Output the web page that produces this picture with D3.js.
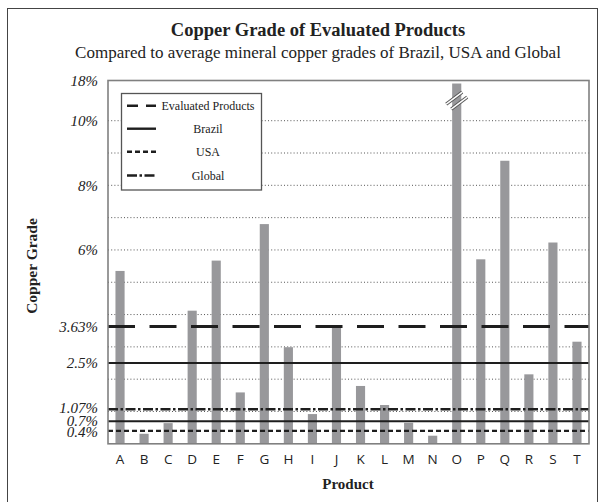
<!DOCTYPE html>
<html>
<head>
<meta charset="utf-8">
<style>
  body {
    margin: 0;
    background: #fff;
  }
  svg text {
    fill: #222;
  }
</style>
<script type="text/javascript" src="https://d3js.org/d3.v7.min.js"></script>
</head>
<body>
<svg id="chart"></svg>
<script type="text/javascript">
let products = ['A','B','C','D','E','F','G','H','I','J','K','L','M','N','O','P','Q','R','S','T']
let grades = [5.35, 0.31, 0.64, 4.12, 5.67, 1.59, 6.8, 2.99, 0.92, 3.65, 1.79, 1.2, 0.65, 0.25, 17.4, 5.71, 8.76, 2.15, 6.23, 3.16]

let tickValues = [0.4, 0.7, 1.07, 2.5, 3.63, 6, 8, 10, 18]
let tickLabels = ['0.4%', '0.7%', '1.07%', '2.5%', '3.63%', '6%', '8%', '10%', '18%']
let gridValues = [1, 2, 3, 4, 5, 6, 7, 8, 9, 10]

let refNames = ['Evaluated Products', 'Brazil', 'USA', 'Global']
let refValues = [3.63, 2.5, 0.4, 1.07]
// extra solid line drawn at 0.7%
let extraLine = 0.7

let width = 605,
    height = 502,
    plotLeft = 108,
    plotRight = 589,
    plotTop = 80.5,
    plotBottom = 443.8

let svg = d3.select('#chart')
    .attr('width', width)
    .attr('height', height)

// outer frame
svg.append('rect')
    .attr('x', 7.5).attr('y', 8.5)
    .attr('width', 590).attr('height', 500)
    .attr('fill', 'none')
    .attr('stroke', '#444')
    .attr('stroke-width', 1)

let x = d3.scaleBand()
    .domain(products)
    .range([plotLeft, plotRight])
    .paddingInner(0.62)
    .paddingOuter(0.31)

// broken axis: linear to 10%, compressed up to 18%
let y = d3.scaleLinear()
    .domain([0, 10, 18])
    .range([plotBottom, 120.7, plotTop])

// title
svg.append('text')
    .attr('x', 318).attr('y', 35.5)
    .attr('text-anchor', 'middle')
    .style('font-family', 'Liberation Serif')
    .style('font-weight', 'bold')
    .style('font-size', '18.5px')
    .text('Copper Grade of Evaluated Products')

svg.append('text')
    .attr('x', 318).attr('y', 57.5)
    .attr('text-anchor', 'middle')
    .style('font-family', 'Liberation Serif')
    .style('font-size', '17px')
    .text('Compared to average mineral copper grades of Brazil, USA and Global')

// gridlines
svg.append('g')
  .selectAll('line')
  .data(gridValues)
  .enter()
  .append('line')
    .attr('x1', plotLeft).attr('x2', plotRight)
    .attr('y1', d => y(d)).attr('y2', d => y(d))
    .attr('stroke', '#555')
    .attr('stroke-width', 1)
    .attr('stroke-dasharray', '1,2.2')

// bars
svg.append('g')
  .selectAll('rect')
  .data(grades)
  .enter()
  .append('rect')
    .attr('x', (d, i) => x(products[i]))
    .attr('y', d => y(d))
    .attr('width', x.bandwidth())
    .attr('height', d => plotBottom - y(d))
    .attr('fill', '#98989b')

// break marks on the tallest bar
let maxIdx = grades.indexOf(d3.max(grades))
let bx = x(products[maxIdx]) + x.bandwidth() / 2
let breakG = svg.append('g')
;[-2.5, 2.5].forEach(function(o) {
  breakG.append('line')
    .attr('x1', bx - 8 + o).attr('y1', y(14) + 6 + o)
    .attr('x2', bx + 8 + o).attr('y2', y(14) - 6 + o)
    .attr('stroke', '#555').attr('stroke-width', 3.2)
})
;[-2.5, 2.5].forEach(function(o) {
  breakG.append('line')
    .attr('x1', bx - 8 + o).attr('y1', y(14) + 6 + o)
    .attr('x2', bx + 8 + o).attr('y2', y(14) - 6 + o)
    .attr('stroke', '#fff').attr('stroke-width', 1.4)
})

// reference lines
let refStyles = [
  {dash: '27,14.5', w: 3},
  {dash: null, w: 2},
  {dash: '5,3', w: 2.2},
  {dash: '10,2.5,2.5,2.5', w: 2.4}
]

svg.append('g')
  .selectAll('line')
  .data(refValues)
  .enter()
  .append('line')
    .attr('x1', plotLeft).attr('x2', plotRight)
    .attr('y1', d => y(d)).attr('y2', d => y(d))
    .attr('stroke', '#1e1e1e')
    .attr('stroke-width', (d, i) => refStyles[i].w)
    .attr('stroke-dasharray', (d, i) => refStyles[i].dash)

svg.append('line')
    .attr('x1', plotLeft).attr('x2', plotRight)
    .attr('y1', y(extraLine)).attr('y2', y(extraLine))
    .attr('stroke', '#1e1e1e')
    .attr('stroke-width', 2)

// plot frame
svg.append('rect')
    .attr('x', plotLeft).attr('y', plotTop)
    .attr('width', plotRight - plotLeft).attr('height', plotBottom - plotTop)
    .attr('fill', 'none')
    .attr('stroke', '#808080')
    .attr('stroke-width', 1.6)

// y axis labels
let yAxis = d3.axisLeft(y)
    .tickValues(tickValues)
    .tickFormat((d, i) => tickLabels[i])
    .tickSize(0)
    .tickPadding(10)

let yg = svg.append('g')
    .attr('transform', 'translate(' + plotLeft + ',0)')
    .call(yAxis)
yg.select('.domain').remove()
yg.selectAll('text')
    .style('font-family', 'Liberation Serif')
    .style('font-style', 'italic')
    .style('font-size', '15px')
    .attr('fill', '#222')
// the three low labels sit very close; spread them a little
yg.selectAll('.tick')
  .filter(d => d === 1.07)
  .select('text').attr('y', -1.2)
yg.selectAll('.tick')
  .filter(d => d === 0.4)
  .select('text').attr('y', 0.6)

// x axis labels
let xAxis = d3.axisBottom(x)
    .tickSize(0)
    .tickPadding(11)

let xg = svg.append('g')
    .attr('transform', 'translate(0,' + plotBottom + ')')
    .call(xAxis)
xg.select('.domain').remove()
xg.selectAll('text')
    .style('font-family', 'Open Sans')
    .style('font-size', '13.5px')
    .attr('fill', '#222')

// axis titles
svg.append('text')
    .attr('transform', 'translate(37,266) rotate(-90)')
    .attr('text-anchor', 'middle')
    .style('font-family', 'Liberation Serif')
    .style('font-weight', 'bold')
    .style('font-size', '15.5px')
    .text('Copper Grade')

svg.append('text')
    .attr('x', 348).attr('y', 489)
    .attr('text-anchor', 'middle')
    .style('font-family', 'Liberation Serif')
    .style('font-weight', 'bold')
    .style('font-size', '15px')
    .text('Product')

// legend
let legend = svg.append('g')
legend.append('rect')
    .attr('x', 121.5).attr('y', 93.5)
    .attr('width', 140).attr('height', 96.5)
    .attr('fill', '#fff')
    .attr('stroke', '#555')
    .attr('stroke-width', 1.3)

let legendY = [105.7, 128.7, 151.7, 175.5]
let legendDash = ['11,8', null, '5,3', '10,2.5,2.5,2.5']

refNames.forEach(function(name, i) {
  legend.append('line')
    .attr('x1', 127).attr('x2', 156)
    .attr('y1', legendY[i]).attr('y2', legendY[i])
    .attr('stroke', '#1e1e1e')
    .attr('stroke-width', 2.4)
    .attr('stroke-dasharray', legendDash[i])
  legend.append('text')
    .attr('x', 208).attr('y', legendY[i] + 4)
    .attr('text-anchor', 'middle')
    .style('font-family', 'Liberation Serif')
    .style('font-size', '12px')
    .text(name)
})
</script>
</body>
</html>
